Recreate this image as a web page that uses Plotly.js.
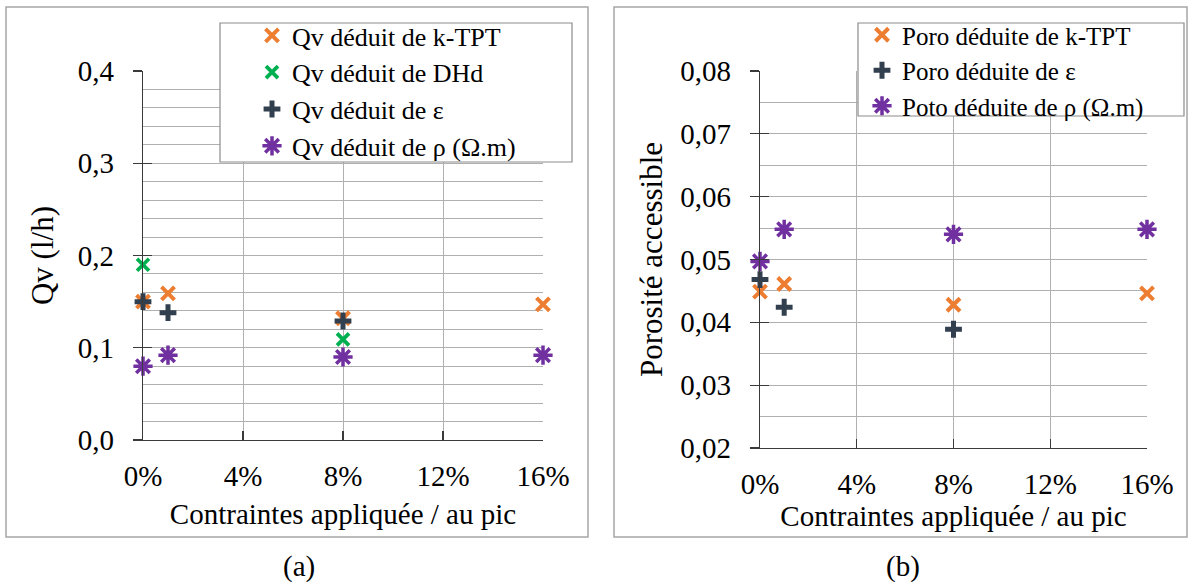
<!DOCTYPE html>
<html><head><meta charset="utf-8">
<script src="https://cdn.plot.ly/plotly-3.0.1.min.js"></script>
<style>
html,body{margin:0;padding:0;background:#fff}
#chart{width:1190px;height:582px}
</style>
</head><body><div id="chart"></div>
<script>
// ---- Panel (a): Qv (l/h) ----
const xA_kTPT = [0, 0.01, 0.08, 0.16];
const qv_kTPT = [0.150, 0.159, 0.132, 0.147];
const xA_DHd = [0, 0.08];
const qv_DHd = [0.190, 0.109];
const xA_eps = [0, 0.01, 0.08];
const qv_eps = [0.150, 0.138, 0.129];
const xA_rho = [0, 0.01, 0.08, 0.16];
const qv_rho = [0.080, 0.092, 0.090, 0.092];
const namesA = ["Qv déduit de k-TPT", "Qv déduit de DHd", "Qv déduit de ε", "Qv déduit de ρ (Ω.m)"];

// ---- Panel (b): Porosité accessible ----
const xB_kTPT = [0, 0.01, 0.08, 0.16];
const poro_kTPT = [0.0449, 0.0461, 0.0428, 0.0446];
const xB_eps = [0, 0.01, 0.08];
const poro_eps = [0.0468, 0.0424, 0.0389];
const xB_rho = [0, 0.01, 0.08, 0.16];
const poro_rho = [0.0497, 0.0548, 0.0540, 0.0548];
const namesB = ["Poro déduite de k-TPT", "Poro déduite de ε", "Poto déduite de ρ (Ω.m)"];

const xTitle = "Contraintes appliquée / au pic";
const yTitleA = "Qv (l/h)";
const yTitleB = "Porosité accessible";

const ORANGE = "#ED7D31", GREEN = "#00B050", NAVY = "#323F4F", PURPLE = "#7030A0";
const SERIF = "Liberation Serif";
const NB = "\u00a0";

function mk(symbol, size, color, width) {
  return {symbol: symbol, size: size, color: color, line: {color: color, width: width}};
}
function tr(x, y, name, marker, xa, ya, leg) {
  return {type: "scatter", mode: "markers", x: x, y: y, name: name, marker: marker,
          xaxis: xa, yaxis: ya, legend: leg, cliponaxis: false, hoverinfo: "x+y"};
}

const data = [
  tr(xA_kTPT, qv_kTPT, namesA[0], mk("x-thin-open", 13, ORANGE, 4), "x", "y", "legend"),
  tr(xA_DHd, qv_DHd, namesA[1], mk("x-thin-open", 12, GREEN, 3.8), "x", "y", "legend"),
  tr(xA_eps, qv_eps, namesA[2], mk("cross-thin-open", 12, NAVY, 5), "x", "y", "legend"),
  tr(xA_rho, qv_rho, namesA[3], mk("asterisk-open", 16, PURPLE, 3.5), "x", "y", "legend"),
  tr(xB_kTPT, poro_kTPT, namesB[0], mk("x-thin-open", 13, ORANGE, 4), "x2", "y2", "legend2"),
  tr(xB_eps, poro_eps, namesB[1], mk("cross-thin-open", 12, NAVY, 5), "x2", "y2", "legend2"),
  tr(xB_rho, poro_rho, namesB[2], mk("asterisk-open", 16, PURPLE, 3.5), "x2", "y2", "legend2"),
  // carriers for the inside half of the crossing y ticks
  {type: "scatter", mode: "markers", x: [], y: [], xaxis: "x", yaxis: "y3", showlegend: false, hoverinfo: "skip"},
  {type: "scatter", mode: "markers", x: [], y: [], xaxis: "x2", yaxis: "y4", showlegend: false, hoverinfo: "skip"}
];

const W = 1190, H = 582;
const GRID = "#b0b0b0";
const AX = "#3a3a3a";
function px(x) { return x / W; }
function py(y) { return 1 - y / H; }

function xax(domain, anchor, standoff) {
  return {domain: domain, anchor: anchor, range: [0, 0.16], dtick: 0.04, tick0: 0,
    tickformat: ".0%", ticks: "inside", ticklen: 9, tickwidth: 1.3, tickcolor: AX,
    showline: true, linecolor: AX, linewidth: 1.3, showgrid: true, gridcolor: GRID, gridwidth: 1,
    zeroline: false, tickfont: {family: SERIF, size: 29, color: "#000"}, ticklabelstandoff: 10,
    title: {text: xTitle, font: {family: SERIF, size: 29, color: "#000"}, standoff: standoff},
    fixedrange: true};
}
function yax(domain, anchor, range, dtick, fmt, minor) {
  return {domain: domain, anchor: anchor, range: range, dtick: dtick, tick0: range[0],
    tickformat: fmt, ticks: "outside", ticklen: 9, tickwidth: 1.3, tickcolor: AX,
    showline: true, linecolor: AX, linewidth: 1.3, showgrid: true, gridcolor: GRID, gridwidth: 1,
    minor: {dtick: minor, showgrid: true, gridcolor: GRID, gridwidth: 1, ticks: ""},
    zeroline: false, tickfont: {family: SERIF, size: 29, color: "#000"}, ticklabelstandoff: 13,
    fixedrange: true};
}
function yover(over, anchor, range, dtick) {
  return {overlaying: over, anchor: anchor, side: "left", range: range, dtick: dtick, tick0: range[0],
    ticks: "inside", ticklen: 9, tickwidth: 1.3, tickcolor: AX, showticklabels: false,
    showgrid: false, showline: false, zeroline: false, fixedrange: true};
}

const yA = yax([py(440), py(71)], "x", [0, 0.4], 0.1, ".1f", 0.02);
yA.title = {text: yTitleA + NB.repeat(4), font: {family: SERIF, size: 31, color: "#000"}, standoff: 14};
const yB = yax([py(448), py(71)], "x2", [0.02, 0.08], 0.01, ".2f", 0.005);
yB.title = {text: yTitleB + NB.repeat(6), font: {family: SERIF, size: 31, color: "#000"}, standoff: 8};

const layout = {
  width: W, height: H,
  margin: {l: 0, r: 0, t: 0, b: 0},
  paper_bgcolor: "#fff", plot_bgcolor: "rgba(0,0,0,0)",
  separators: ", ",
  font: {family: SERIF, size: 26, color: "#000"},
  xaxis: xax([px(143), px(543)], "y", 12),
  yaxis: yA,
  xaxis2: xax([px(760), px(1147)], "y2", 4),
  yaxis2: yB,
  yaxis3: yover("y", "x", [0, 0.4], 0.1),
  yaxis4: yover("y2", "x2", [0.02, 0.08], 0.01),
  legend: {x: px(252), xanchor: "left", y: py(12), yanchor: "top",
    bgcolor: "rgba(0,0,0,0)", borderwidth: 0, font: {family: SERIF, size: 26, color: "#000"},
    itemclick: false, itemdoubleclick: false},
  legend2: {x: px(862), xanchor: "left", y: py(12), yanchor: "top",
    bgcolor: "rgba(0,0,0,0)", borderwidth: 0, font: {family: SERIF, size: 25, color: "#000"},
    itemclick: false, itemdoubleclick: false},
  shapes: [
    {type: "rect", xref: "paper", yref: "paper", x0: px(6), x1: px(588), y0: py(537), y1: py(7),
     line: {color: "#a6a6a6", width: 1.5}, fillcolor: "rgba(0,0,0,0)", layer: "below"},
    {type: "rect", xref: "paper", yref: "paper", x0: px(614), x1: px(1187), y0: py(537), y1: py(7),
     line: {color: "#a6a6a6", width: 1.5}, fillcolor: "rgba(0,0,0,0)", layer: "below"},
    {type: "rect", xref: "paper", yref: "paper", x0: px(220), x1: px(572), y0: py(162), y1: py(23),
     line: {color: "#8c8c8c", width: 1.2}, fillcolor: "#fff", layer: "above"},
    {type: "rect", xref: "paper", yref: "paper", x0: px(858), x1: px(1184), y0: py(116), y1: py(23),
     line: {color: "#8c8c8c", width: 1.2}, fillcolor: "#fff", layer: "above"}
  ],
  annotations: [
    {text: "(a)", xref: "paper", yref: "paper", x: px(299), y: py(566), xanchor: "center", yanchor: "middle",
     showarrow: false, font: {family: SERIF, size: 29, color: "#000"}},
    {text: "(b)", xref: "paper", yref: "paper", x: px(903), y: py(566), xanchor: "center", yanchor: "middle",
     showarrow: false, font: {family: SERIF, size: 29, color: "#000"}}
  ],
  showlegend: true
};

Plotly.newPlot("chart", data, layout, {displayModeBar: false, staticPlot: true});
</script>
</body></html>
